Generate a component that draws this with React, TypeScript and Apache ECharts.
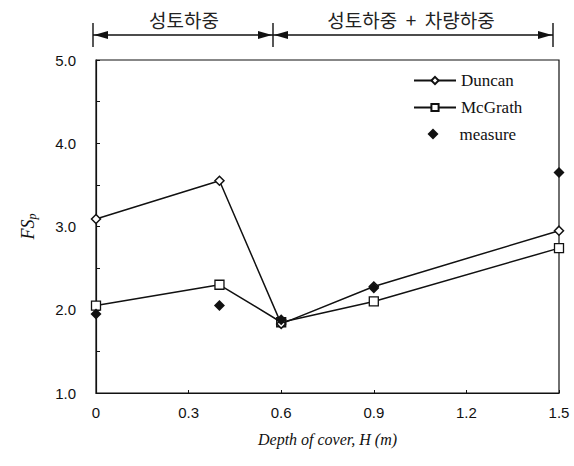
import React, { useEffect, useRef } from "react";
import * as echarts from "echarts";

const depths = [0, 0.4, 0.6, 0.9, 1.5];
const duncan = [3.09, 3.55, 1.83, 2.28, 2.95];
const mcgrath = [2.05, 2.3, 1.85, 2.1, 2.74];
const measure = [1.95, 2.05, 1.88, 2.26, 3.65];
const seriesNames = ["Duncan", "McGrath", "measure"];
const topLabels = ["성토하중", "성토하중  +  차량하중"];

const pair = (ys: number[]) => depths.map((x, i) => [x, ys[i]]);

export default function App() {
  const ref = useRef<HTMLDivElement>(null);
  useEffect(() => {
    if (!ref.current) return;
    const chart = echarts.init(ref.current, undefined, { renderer: "svg" });
    const black = "#111";
    const ay = 35;
    const xL = 93;
    const xM = 273;
    const xR = 553;
    const arrow = (tip: number, dir: number) => ({
      type: "polygon",
      shape: { points: [[tip, ay], [tip - dir * 14, ay - 4], [tip - dir * 14, ay + 4]] },
      style: { fill: black },
    });
    const vbar = (x: number) => ({
      type: "line",
      shape: { x1: x, y1: 23, x2: x, y2: 47 },
      style: { stroke: black, lineWidth: 1.4 },
    });
    chart.setOption({
      animation: false,
      backgroundColor: "#fff",
      grid: {
        left: 96,
        right: 574 - 559,
        top: 60,
        bottom: 466 - 393,
        show: true,
        borderColor: black,
        borderWidth: 1.2,
      },
      xAxis: {
        type: "value",
        min: 0,
        max: 1.5,
        interval: 0.3,
        name: "Depth of cover, H (m)",
        nameLocation: "middle",
        nameGap: 38,
        nameTextStyle: { fontFamily: "Liberation Serif", fontStyle: "italic", fontSize: 16, color: black },
        axisLine: { lineStyle: { color: black, width: 1.2 } },
        axisTick: { inside: true, length: 3, lineStyle: { color: black } },
        splitLine: { show: false },
        axisLabel: {
          margin: 12,
          fontFamily: "Liberation Sans",
          fontSize: 15,
          color: black,
          formatter: (v: number) => (v === 0 ? "0" : v.toFixed(1)),
        },
      },
      yAxis: {
        type: "value",
        min: 1,
        max: 5,
        interval: 1,
        name: "{a|FS}{b|p}",
        nameLocation: "middle",
        nameRotate: 90,
        nameGap: 58,
        nameTextStyle: {
          rich: {
            a: { fontFamily: "Liberation Serif", fontStyle: "italic", fontSize: 18, color: black },
            b: { fontFamily: "Liberation Serif", fontStyle: "italic", fontSize: 12, color: black, padding: [8, 0, 0, 0] },
          },
        },
        axisLine: { lineStyle: { color: black, width: 1.2 } },
        axisTick: { inside: true, length: 4, lineStyle: { color: black } },
        minorTick: { show: true, splitNumber: 2, length: 4, lineStyle: { color: black } },
        splitLine: { show: false },
        axisLabel: {
          margin: 20,
          fontFamily: "Liberation Sans",
          fontSize: 15,
          color: black,
          formatter: (v: number) => v.toFixed(1),
        },
      },
      legend: [
        {
          orient: "vertical",
          left: 413,
          top: 72,
          padding: 0,
          itemWidth: 42,
          itemHeight: 9,
          itemGap: 10,
          textStyle: { fontFamily: "Liberation Serif", fontSize: 17, color: black },
          data: seriesNames.slice(0, 2),
        },
        {
          orient: "vertical",
          left: 427.5,
          top: 125.5,
          padding: 0,
          itemWidth: 11,
          itemHeight: 11,
          textStyle: { fontFamily: "Liberation Serif", fontSize: 17, color: black, padding: [0, 0, 0, 16] },
          data: seriesNames.slice(2),
        },
      ],
      graphic: [
        { type: "line", shape: { x1: xL, y1: ay, x2: xR, y2: ay }, style: { stroke: black, lineWidth: 1.5 } },
        vbar(xL),
        vbar(xM),
        vbar(xR),
        arrow(xL + 1, -1),
        arrow(xM - 1, 1),
        arrow(xM + 1, -1),
        arrow(xR - 1, 1),
        {
          type: "text",
          x: 184,
          y: 19,
          style: { text: topLabels[0], fontFamily: "Noto Sans CJK KR", fontSize: 19, fill: "#222", align: "center", verticalAlign: "middle" },
        },
        {
          type: "text",
          x: 411,
          y: 19,
          style: { text: topLabels[1], fontFamily: "Noto Sans CJK KR", fontSize: 19, fill: "#222", align: "center", verticalAlign: "middle" },
        },
      ],
      series: [
        {
          name: seriesNames[0],
          type: "line",
          data: pair(duncan),
          symbol: "diamond",
          symbolSize: 9,
          lineStyle: { color: black, width: 1.5 },
          itemStyle: { color: "#fff", borderColor: black, borderWidth: 1.5 },
          z: 3,
        },
        {
          name: seriesNames[1],
          type: "line",
          data: pair(mcgrath),
          symbol: "rect",
          symbolSize: 9,
          lineStyle: { color: black, width: 1.5 },
          itemStyle: { color: "#fff", borderColor: black, borderWidth: 1.3 },
          z: 2,
        },
        {
          name: seriesNames[2],
          type: "scatter",
          data: pair(measure),
          symbol: "diamond",
          symbolSize: 11,
          itemStyle: { color: black, opacity: 1 },
          z: 4,
        },
      ],
    });
    return () => chart.dispose();
  }, []);
  return <div ref={ref} style={{ position: "absolute", left: 0, top: 0, width: 574, height: 466 }} />;
}
